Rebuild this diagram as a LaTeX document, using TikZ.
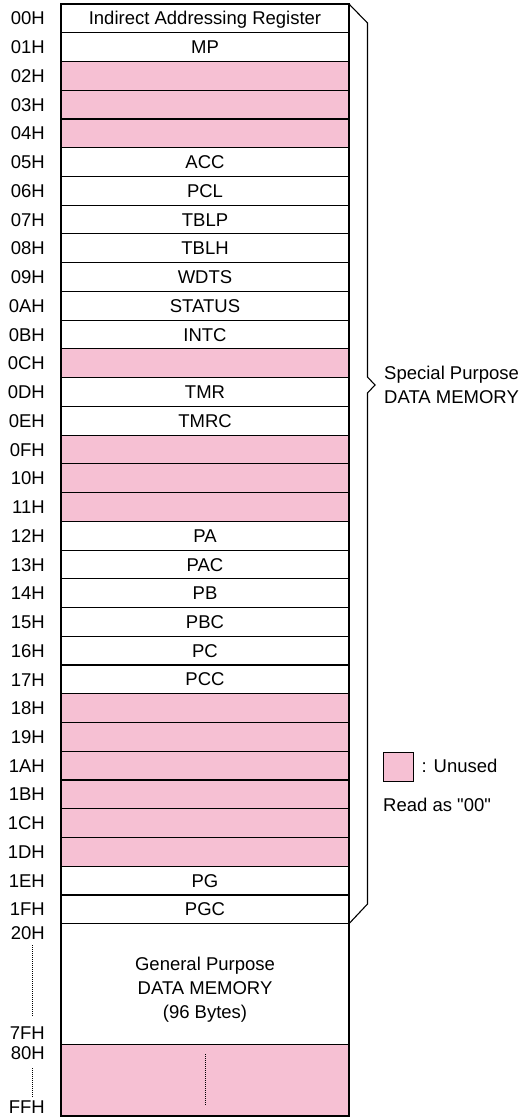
\documentclass[tikz,border=0pt]{standalone}
\usepackage{fontspec}
\setmainfont{Liberation Sans}[Ligatures=TeXOff]
\definecolor{unusedpink}{RGB}{246,192,211}
\tikzset{
  memfont/.style={font=\fontsize{18.5}{24}\selectfont},
  rowbox/.style={draw=black, line width=1.1pt, minimum width=288pt, minimum height=28.74pt,
     inner sep=0pt, outer sep=0pt, anchor=north west, memfont, text height=13.2pt, text depth=0pt},
  unused/.style={fill=unusedpink},
  addr/.style={anchor=east, inner sep=0pt, memfont, text height=13.2pt, text depth=0pt},
  bracestyle/.style={draw=black, line width=1.1pt, line join=miter},
  dotline/.style={line width=0.8pt, dash pattern=on 1pt off 1pt},
}
\begin{document}
\begin{tikzpicture}[x=1pt,y=-1pt]
\useasboundingbox (0,0) rectangle (521,1118);
\foreach [count=\n from 0] \a/\t/\s in {
 00H/Indirect Addressing Register/,
 01H/MP/,
 02H//unused, 03H//unused, 04H//unused,
 05H/ACC/, 06H/PCL/, 07H/TBLP/, 08H/TBLH/, 09H/WDTS/, 0AH/STATUS/, 0BH/INTC/,
 0CH//unused,
 0DH/TMR/, 0EH/TMRC/,
 0FH//unused, 10H//unused, 11H//unused,
 12H/PA/, 13H/PAC/, 14H/PB/, 15H/PBC/, 16H/PC/, 17H/PCC/,
 18H//unused, 19H//unused, 1AH//unused, 1BH//unused, 1CH//unused, 1DH//unused,
 1EH/PG/, 1FH/PGC/}
{
  \node[rowbox, \s] (row\n) at (61,{4+\n*28.74}) {\t};
  \node[addr] (lab\n) at (45,{18.4+\n*28.74}) {\a};
}
% general purpose area
\node[rowbox, minimum height=120.6pt] (gp) at (61,923.7) {};
\node[memfont, align=center, inner sep=0pt] (gptext) at (205,990) {General Purpose\\DATA MEMORY\\(96 Bytes)};
\node[rowbox, unused, minimum height=71.7pt] (hi) at (61,1044.3) {};
\coordinate (hidot1) at (205,1054);
\coordinate (hidot2) at (205,1106);
\draw[dotline] (hidot1) -- (hidot2);
% address labels of lower area
\node[addr] (l20) at (45,933) {20H};
\node[addr] (l7f) at (45,1033) {7FH};
\node[addr] (l80) at (45,1053) {80H};
\node[addr] (lff) at (45,1107) {FFH};
\coordinate (d1a) at (32,945);
\coordinate (d1b) at (32,1017);
\coordinate (d2a) at (32,1068);
\coordinate (d2b) at (32,1098);
\draw[dotline] (d1a) -- (d1b);
\draw[dotline] (d2a) -- (d2b);
% brace
\coordinate (b1) at (367.5,23);
\coordinate (b2) at (367.5,377);
\coordinate (btip) at (375,385);
\coordinate (b3) at (367.5,393);
\coordinate (b4) at (367.5,904);
\draw[bracestyle] (row0.north east) -- (b1) -- (b2) -- (btip) -- (b3) -- (b4) -- (row31.south east);
\node[memfont, align=left, anchor=west, inner sep=0pt] (sp) at (384,384.5) {Special Purpose\\DATA MEMORY};
% legend
\node[draw=black, line width=1.1pt, fill=unusedpink, minimum width=29.5pt, minimum height=28.7pt,
      inner sep=0pt, anchor=north west] (legsq) at (383,752.3) {};
\node[memfont, anchor=west, inner sep=0pt, text height=13.2pt, text depth=0pt] (legtxt) at (421.5,766) {: Unused};
\node[memfont, anchor=west, inner sep=0pt, text height=13.2pt, text depth=0pt] (readas) at (383,805) {Read as "00"};
\end{tikzpicture}
\end{document}
